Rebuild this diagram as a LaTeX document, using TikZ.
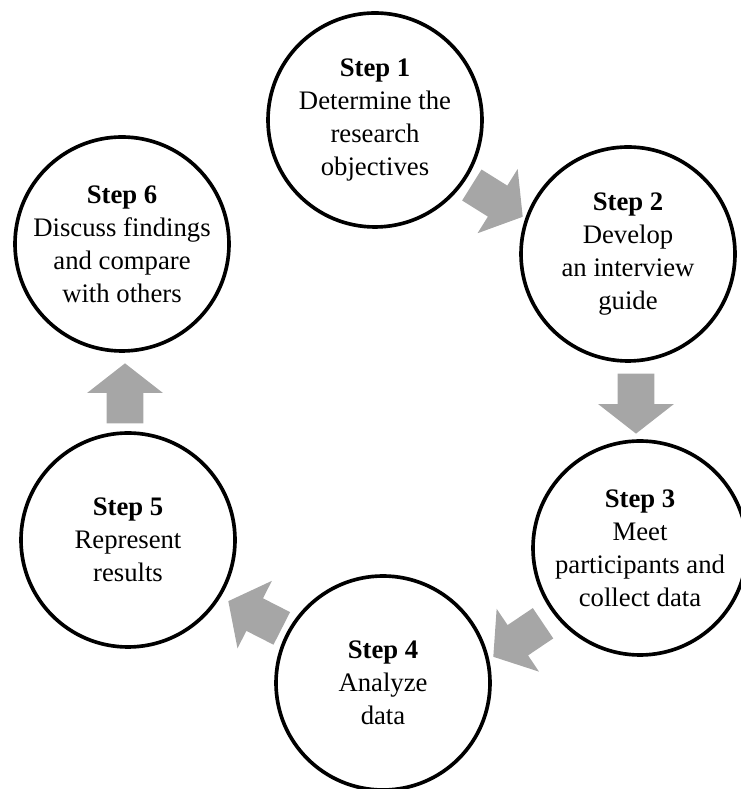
\documentclass[tikz,border=0pt]{standalone}
\usepackage{fontspec}
\setmainfont{Liberation Serif}
\usetikzlibrary{shapes.arrows}
\definecolor{arrowgray}{HTML}{A6A6A6}

\begin{document}
\begin{tikzpicture}[
    stepcircle/.style={draw=black, line width=2.6pt, circle, minimum size=5.35cm, align=center, fill=white, inner sep=0pt, font=\fontsize{19}{23.5}\selectfont},
    blockarrow/.style={single arrow, fill=arrowgray, draw=none, minimum height=1.5cm, inner xsep=0pt, inner ysep=0.45cm, single arrow head extend=0.49cm, single arrow tip angle=104, anchor=tip}
]
\useasboundingbox (0,0) rectangle (18.5,19.725);

% Six steps round the cycle
\node[stepcircle] (step1) at (9.375,16.725) {\textbf{Step 1}\\Determine the\\research\\objectives};
\node[stepcircle] (step2) at (15.7,13.375) {\textbf{Step 2}\\Develop\\an interview\\guide};
\node[stepcircle] (step3) at (16.0,6.025) {\textbf{Step 3}\\Meet\\participants and\\collect data};
\node[stepcircle] (step4) at (9.575,2.65) {\textbf{Step 4}\\Analyze\\data};
\node[stepcircle] (step5) at (3.2,6.225) {\textbf{Step 5}\\Represent\\results};
\node[stepcircle] (step6) at (3.05,13.625) {\textbf{Step 6}\\Discuss findings\\and compare\\with others};

% Block arrows between the circles (placed by their tips)
\node[blockarrow, rotate=-32] (a12) at (13.075,14.3) {};
\node[blockarrow, rotate=-90] (a23) at (15.9,8.875) {};
\node[blockarrow, rotate=214] (a34) at (12.325,3.3) {};
\node[blockarrow, rotate=153] (a45) at (5.7,4.7) {};
\node[blockarrow, rotate=90] (a56) at (3.125,10.65) {};

\end{tikzpicture}
\end{document}
